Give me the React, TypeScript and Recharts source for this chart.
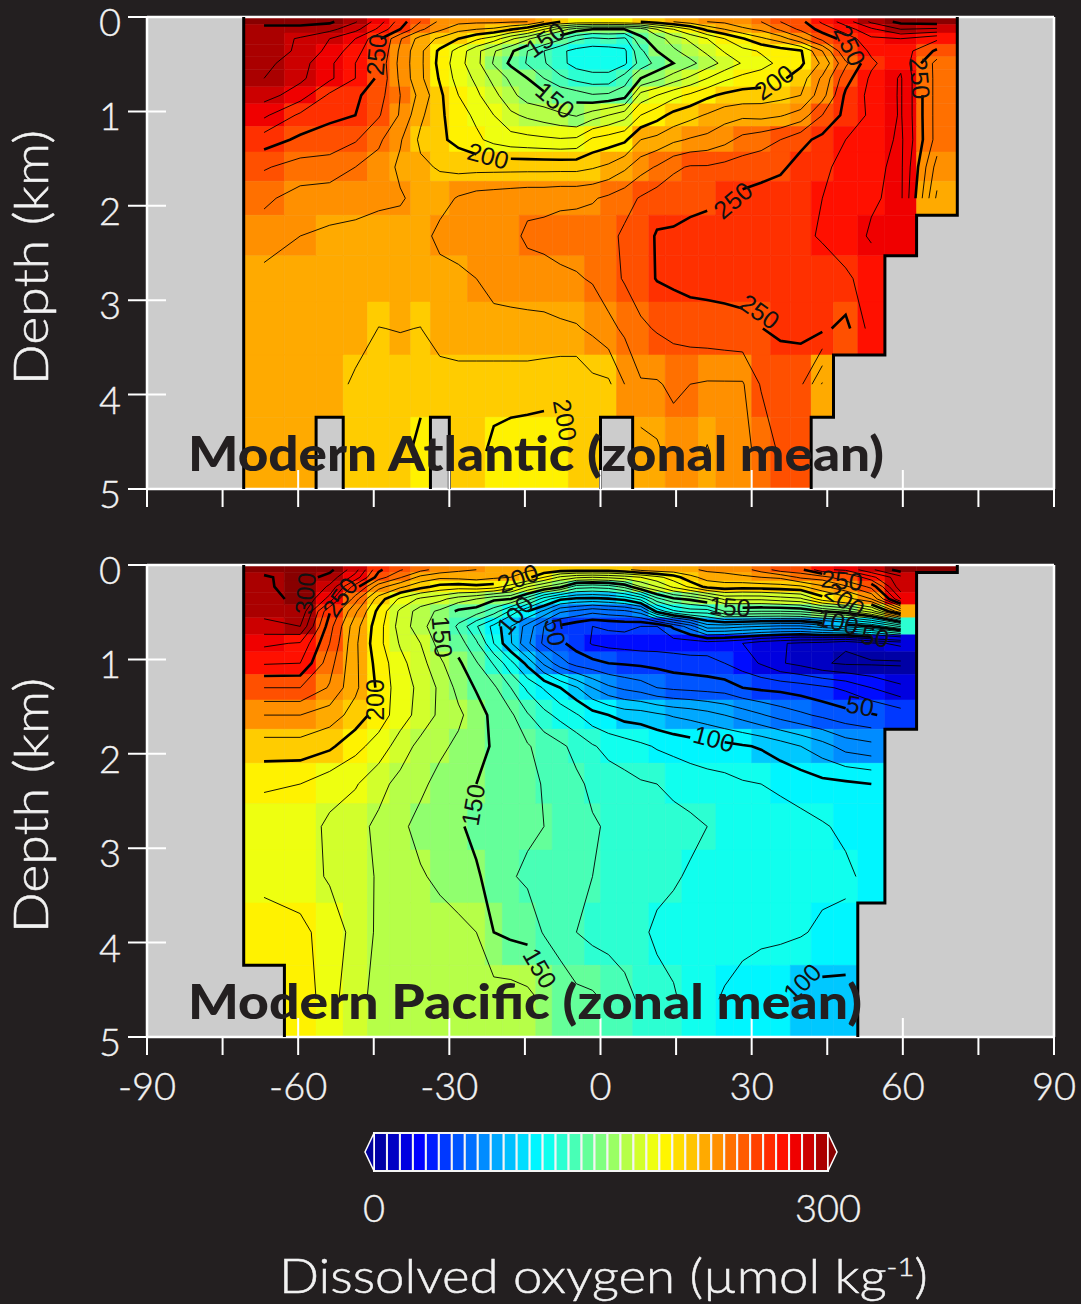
import React from "react";
import { ScatterChart, Scatter, XAxis, YAxis, ReferenceArea, ReferenceLine } from "recharts";

type Grid = (number | null)[][];
type Pt = { lat: number; depth: number };

// sine-latitude model grid, edges in degrees
const latEdges = [
  -70.81, -62.73, -56.44, -51.06, -46.24, -41.81, -37.67, -33.75, -30, -26.39, -22.89, -19.47,
  -16.13, -12.84, -9.59, -6.38, -3.18, 0, 3.18, 6.38, 9.59, 12.84, 16.13, 19.47, 22.89, 26.39, 30,
  33.75, 37.67, 41.81, 46.24, 51.06, 56.44, 62.73, 70.81,
];
// depth levels in km
const depthEdges = [0, 0.08, 0.17, 0.29, 0.42, 0.56, 0.74, 0.92, 1.16, 1.43, 1.74, 2.1, 2.53, 3.02, 3.58, 4.24, 5];
const depthMids = [0.05, 0.13, 0.23, 0.36, 0.49, 0.65, 0.83, 1.04, 1.3, 1.59, 1.92, 2.32, 2.77, 3.3, 3.89, 4.6];

const latTicks = [-90, -75, -60, -45, -30, -15, 0, 15, 30, 45, 60, 75, 90];
const depthTicks = [0, 1, 2, 3, 4, 5];
const contourLevels = [10, 20, 30, 40, 50, 60, 70, 80, 90, 100, 110, 120, 130, 140, 150, 160, 170, 180, 190, 200, 210, 220, 230, 240, 250, 260, 270, 280, 290, 300];

// swatches of the colour bar
const palette = [
  "#0000a5", "#0000c4", "#0000e0", "#0000ff", "#001cff", "#0038ff", "#0055ff", "#0070ff", "#008cff",
  "#00a8ff", "#00c0ff", "#00ddff", "#00f6ff", "#10ffee", "#2cffd2", "#48ffb6", "#64ff9a", "#80ff80",
  "#9aff64", "#b6ff48", "#d2ff2c", "#eeff10", "#fff600", "#ffdd00", "#ffc400", "#ffaa00", "#ff9000",
  "#ff7000", "#ff5c00", "#ff4000", "#ff2a00", "#ff1000", "#f00000", "#cc0000", "#aa0000",
];
const underColor = "#00009b";
const overColor = "#880000";
// cells are shaded in 10 umol/kg classes
const cellColors = [
  "#0000a5", "#0000c4", "#0000e0", "#000cff", "#0038ff", "#0055ff", "#0070ff", "#008cff", "#00a8ff", "#00c8ff",
  "#00f6ff", "#10ffee", "#2cffd2", "#48ffb6", "#64ff9a", "#90ff6e", "#b6ff48", "#d2ff2c", "#eeff10", "#fff200",
  "#ffcc00", "#ffaa00", "#ff9000", "#ff7000", "#ff5000", "#ff3000", "#ff1000", "#f00000", "#cc0000", "#aa0000",
];

const atlanticO2: Grid = [
  [304, 304, 302, 291, 275, 255, 240, 228, 223, 222, 222, 221, 220, 210, 200, 197, 197, 197, 198, 200, 205, 210, 215, 220, 222, 226, 230, 240, 247, 262, 275, 292, 303, 305],
  [296, 296, 293, 283, 268, 250, 232, 222, 213, 210, 208, 201, 194, 180, 165, 155, 150, 150, 150, 155, 170, 180, 190, 203, 210, 218, 222, 232, 242, 254, 265, 278, 290, 288],
  [295, 289, 280, 270, 252, 231, 216, 208, 200, 192, 185, 172, 162, 150, 142, 132, 128, 130, 128, 148, 155, 165, 172, 180, 190, 199, 208, 215, 228, 243, 254, 268, 270, 262],
  [296, 288, 277, 264, 250, 228, 212, 198, 186, 173, 161, 152, 140, 130, 122, 117, 115, 115, 118, 138, 150, 158, 165, 172, 181, 187, 191, 195, 199, 220, 249, 262, 266, 248],
  [293, 284, 272, 260, 247, 227, 212, 197, 184, 173, 159, 148, 139, 131, 123, 116, 114, 114, 118, 134, 143, 150, 157, 165, 173, 181, 187, 192, 198, 212, 238, 258, 268, 236],
  [290, 282, 272, 260, 248, 228, 212, 199, 186, 178, 167, 158, 150, 140, 132, 127, 124, 124, 135, 150, 157, 165, 172, 180, 188, 193, 194, 198, 205, 222, 246, 262, 271, 236],
  [284, 275, 258, 252, 244, 230, 217, 202, 190, 182, 173, 163, 155, 153, 148, 145, 141, 142, 146, 174, 180, 187, 192, 198, 202, 204, 205, 207, 210, 226, 252, 263, 271, 236],
  [272, 258, 252, 250, 241, 229, 212, 202, 194, 188, 180, 172, 168, 165, 162, 159, 165, 170, 176, 190, 196, 203, 207, 211, 216, 218, 217, 219, 224, 240, 253, 262, 271, 236],
  [255, 248, 246, 241, 232, 221, 208, 202, 197, 192, 187, 184, 183, 182, 181, 182, 192, 195, 198, 210, 213, 218, 221, 223, 227, 233, 236, 240, 247, 253, 260, 264, 272, 236],
  [241, 236, 235, 230, 226, 218, 212, 209, 207, 207, 207, 207, 207, 207, 207, 207, 209, 212, 218, 226, 231, 238, 241, 241, 243, 245, 246, 248, 254, 258, 263, 268, 272, 226],
  [232, 226, 225, 224, 222, 221, 217, 216, 221, 224, 225, 226, 227, 227, 228, 228, 229, 232, 236, 241, 245, 247, 247, 248, 250, 252, 254, 256, 258, 260, 264, 269, 272, 218],
  [225, 220, 218, 217, 216, 216, 216, 223, 224, 225, 226, 227, 232, 233, 234, 235, 236, 237, 242, 245, 251, 251, 253, 254, 255, 255, 256, 257, 258, 261, 266, 271, 276, null],
  [217, 217, 216, 216, 216, 216, 216, 216, 218, 220, 223, 224, 225, 226, 228, 229, 231, 236, 241, 246, 250.5, 252, 253, 253, 253, 253, 254, 255, 255, 255, 258, 265, null, null],
  [216, 216, 216, 215, 209.8, 210.4, 209.8, 215, 217, 217, 217, 217, 217, 217, 218, 219, 222, 227, 232, 238, 241, 243, 245, 246, 247, 248, 249.8, 252, 253, 252, 247, 264, null, null],
  [216, 216, 215, 208, 205, 205, 205, 205, 205, 205, 205, 205, 205, 204, 202, 201, 207, 208, 220, 229, 229, 232, 230, 229, 229, 229, 241, 243, 242, 219, null, null, null, null],
  [216, 210, null, 208, 208, 206, 195, null, 207, 204, 197, 195, 194, 194, 195, 201, 206, null, null, 215, 218, 225, 226, 219, 226, 228, 232, 242, 243, null, null, null, null, null],
];

const pacificO2: Grid = [
  [305, 306, 303, 284, 252, 241, 233, 226, 222, 220, 218, 216, 212, 208, 205, 205, 205, 205, 208, 213, 216, 217, 218, 222, 224, 226, 234, 245, 247, 268, 272, 288, 305, 305],
  [298, 306, 296, 276, 245, 231, 217, 212, 213, 215, 212, 210, 203, 190, 178, 172, 170, 172, 175, 180, 187, 195, 207, 214, 215, 218, 220, 222, 232, 235, 248, 267, 287, null],
  [298, 305, 288, 255, 224, 212, 203, 197, 195, 197, 195, 185, 170, 160, 152, 135, 133, 135, 143, 160, 170, 182, 192, 203, 206, 204, 205, 206, 208, 218, 228, 243, 287, null],
  [296, 303, 276, 234, 205, 188, 178, 173, 165, 160, 152, 150, 135, 115, 102, 98, 97, 99, 103, 113, 137, 148, 152, 160, 172, 172, 172, 175, 178, 195, 205, 220, 270, null],
  [293, 299, 251, 222, 197, 178, 165, 158, 148, 145, 135, 118, 100, 88, 72, 68, 63, 66, 68, 75, 103, 118, 125, 125, 140, 141, 140, 140, 142, 150, 157, 175, 218, null],
  [287, 290, 244, 214, 194, 176, 164, 152, 138, 121, 107, 90, 76, 60, 48, 43, 40, 41, 42, 40, 40, 52, 65, 85, 85, 82, 80, 78, 78, 85, 92, 100, 122, null],
  [272, 269, 240, 212, 193, 179, 170, 156, 145, 132, 110, 91, 72, 58, 52, 46, 39, 37, 36, 35, 35, 35, 34, 35, 33, 30, 24, 21, 18, 16, 11, 18, 22, null],
  [261, 260, 234, 212, 196, 183, 174, 162, 152, 141, 129, 113, 97, 78, 64, 56, 53, 50, 49, 48, 47, 45, 44, 43, 40, 35, 29, 21, 17, 11, 8.5, 8.5, 8.5, null],
  [240, 240, 229, 212, 198, 184, 178, 168, 157, 149, 142, 130, 118, 109, 100, 91, 80, 72, 68, 65, 60, 58, 57, 56, 55, 50, 48, 47, 45, 42, 38, 30, 22, null],
  [220, 220, 215, 206, 195, 185, 176, 168, 162, 155, 147, 142, 131, 123, 117, 111, 104, 100, 96, 95, 92, 89, 87, 84, 80, 76, 71, 66, 62, 58, 54, 51, 46, null],
  [206, 206, 202, 193, 186, 175, 167, 162, 158, 153, 149, 143, 141, 136, 132, 127, 121, 117, 115, 112, 109, 107, 105, 104, 103, 101, 99, 95, 90, 84, 76, 73, null, null],
  [191, 190, 184, 181, 173, 167, 162, 157, 154, 150, 148, 146, 144, 139, 135, 132, 128, 125, 123, 121, 120, 118, 116, 114, 113, 111, 110, 108, 106, 103, 102, 100, null, null],
  [186, 185, 178, 173, 168, 162, 157, 154, 151, 148, 146, 144, 142, 140, 137, 134, 131, 129, 127, 126, 124, 123, 122, 120, 119, 118, 116, 115, 113, 111, 108, 106, null, null],
  [187, 184, 179, 174, 169, 165, 161, 158, 154, 151, 147, 141, 138, 137, 135, 133, 130, 128, 126, 125, 123, 121, 119, 117, 116, 115, 114, 114, 114, 113, 112, 107, null, null],
  [195, 193, 185, 177, 168, 166, 165, 164, 163, 160, 150, 148, 147, 139, 135, 130, 127, 126, 124, 122, 118, 117, 116, 115, 114, 113, 112, 112, 111, 108, 107, null, null, null],
  [null, 197, 184, 173, 167, 166, 165, 165, 165, 165, 165, 165, 163, 158, 147, 143, 142, 138, 134, 128, 124, 121, 117, 112, 109, 106, 104, 101, 97, 96, 96, null, null, null],
];

// contour labels: [text, lat, depth, rotation]
const atlanticLabels: [string, number, number, number][] = [
  ["250", -44.5, 0.4, -85], ["150", -11, 0.24, -35], ["150", -9, 0.88, 40], ["200", -22.3, 1.47, 15],
  ["200", 34.4, 0.69, -35], ["250", 49.5, 0.3, 65], ["250", 63.4, 0.65, 85], ["250", 26.3, 1.94, -40],
  ["250", 31.6, 3.12, 35], ["200", -7, 4.27, 80],
];
const pacificLabels: [string, number, number, number][] = [
  ["300", -58.6, 0.3, -85], ["250", -51.7, 0.34, -55], ["200", -16.4, 0.14, -20], ["100", -17, 0.53, -50],
  ["150", -31.4, 0.76, 85], ["50", -9, 0.71, 80], ["150", 25.7, 0.44, 5], ["250", 47.9, 0.16, 5],
  ["200", 48.5, 0.37, 35], ["100", 47.1, 0.6, 15], ["50", 54.5, 0.76, 10], ["50", 51.5, 1.49, 10],
  ["200", -44.7, 1.43, -90], ["100", 22.5, 1.84, 15], ["150", -25.3, 2.54, -80], ["150", -12, 4.27, 60],
  ["100", 40, 4.42, -45],
];

const colorOf = (v: number) => (v >= 300 ? overColor : cellColors[Math.max(0, Math.floor(v / 10))]);
const latMids = latEdges.slice(0, -1).map((e, i) => (e + latEdges[i + 1]) / 2);

// join loose segments into polylines
function chain(segs: [Pt, Pt][]): Pt[][] {
  const key = (p: Pt) => `${p.lat.toFixed(3)},${p.depth.toFixed(3)}`;
  const left = segs.slice();
  const out: Pt[][] = [];
  while (left.length) {
    const line = left.pop()!.slice();
    let grown = true;
    while (grown) {
      grown = false;
      for (let i = 0; i < left.length; i++) {
        const [a, b] = left[i];
        const head = key(line[0]);
        const tail = key(line[line.length - 1]);
        if (key(a) === tail) line.push(b);
        else if (key(b) === tail) line.push(a);
        else if (key(a) === head) line.unshift(b);
        else if (key(b) === head) line.unshift(a);
        else continue;
        left.splice(i, 1);
        grown = true;
        break;
      }
    }
    out.push(line);
  }
  return out;
}

// marching squares over the cell centres
function contourLines(grid: Grid, level: number, labels: [string, number, number, number][]): Pt[][] {
  const segs: [Pt, Pt][] = [];
  const cross = (v1: number, v2: number, p1: Pt, p2: Pt): Pt => {
    const t = (level - v1) / (v2 - v1);
    return { lat: p1.lat + t * (p2.lat - p1.lat), depth: p1.depth + t * (p2.depth - p1.depth) };
  };
  for (let r = 0; r < grid.length - 1; r++) {
    for (let c = 0; c < latMids.length - 1; c++) {
      const a = grid[r][c], b = grid[r][c + 1], e = grid[r + 1][c + 1], d = grid[r + 1][c];
      if (a === null || b === null || e === null || d === null) continue;
      const pa = { lat: latMids[c], depth: depthMids[r] };
      const pb = { lat: latMids[c + 1], depth: depthMids[r] };
      const pe = { lat: latMids[c + 1], depth: depthMids[r + 1] };
      const pd = { lat: latMids[c], depth: depthMids[r + 1] };
      const pts: Pt[] = [];
      if (a < level !== b < level) pts.push(cross(a, b, pa, pb));
      if (b < level !== e < level) pts.push(cross(b, e, pb, pe));
      if (e < level !== d < level) pts.push(cross(e, d, pe, pd));
      if (d < level !== a < level) pts.push(cross(d, a, pd, pa));
      if (pts.length === 2) segs.push([pts[0], pts[1]]);
      if (pts.length === 4) {
        segs.push([pts[0], pts[3]]);
        segs.push([pts[1], pts[2]]);
      }
    }
  }
  // leave a gap where the line's own label sits
  const kept = segs.filter(([p, q]) =>
    !labels.some(([text, lat, depth]) => {
      if (Number(text) !== level) return false;
      const dx = ((p.lat + q.lat) / 2 - lat) * 5.04;
      const dy = ((p.depth + q.depth) / 2 - depth) * 94.4;
      return Math.hypot(dx, dy) < (text.length > 2 ? 20 : 13);
    })
  );
  return chain(kept);
}

// outline between ocean and land cells
function coastLines(grid: Grid): Pt[][] {
  const segs: [Pt, Pt][] = [];
  const wet = (r: number, c: number) => r < 0 || r >= grid.length || (c >= 0 && c < latMids.length && grid[r][c] !== null);
  grid.forEach((row, r) =>
    row.forEach((v, c) => {
      if (v === null) return;
      const [x1, x2, y1, y2] = [latEdges[c], latEdges[c + 1], depthEdges[r], depthEdges[r + 1]];
      if (!wet(r, c - 1)) segs.push([{ lat: x1, depth: y1 }, { lat: x1, depth: y2 }]);
      if (!wet(r, c + 1)) segs.push([{ lat: x2, depth: y1 }, { lat: x2, depth: y2 }]);
      if (!wet(r - 1, c)) segs.push([{ lat: x1, depth: y1 }, { lat: x2, depth: y1 }]);
      if (!wet(r + 1, c)) segs.push([{ lat: x1, depth: y2 }, { lat: x2, depth: y2 }]);
    })
  );
  return chain(segs);
}

const FONT = "Lato, 'Open Sans', sans-serif";
const INK = "#f2f2f2";
const noDot = () => <g />;

const LatTick = ({ x, y, payload, showLabel }: any) => {
  const v = payload.value;
  const inner = v % 30 === 0 && Math.abs(v) !== 90;
  return (
    <g>
      <line x1={x} x2={x} y1={inner ? y - 19 : y} y2={y + 18} stroke="#fff" strokeWidth={2} />
      {showLabel && v % 30 === 0 ? (
        <text x={x} y={y + 63} textAnchor="middle" fill={INK} stroke={INK} strokeWidth={0.4} fontFamily={FONT} fontWeight={300} fontSize={38}>
          {v}
        </text>
      ) : null}
    </g>
  );
};

const DepthTick = ({ x, y, payload }: any) => (
  <g>
    <line x1={x - 19} x2={x + 19} y1={y} y2={y} stroke="#fff" strokeWidth={2} />
    <text x={x - 37} y={y + 19} textAnchor="middle" fill={INK} stroke={INK} strokeWidth={0.4} fontFamily={FONT} fontWeight={300} fontSize={38}>
      {payload.value}
    </text>
  </g>
);

const ContourLabel = ({ cx, cy, payload }: any) => (
  <text
    x={cx}
    y={cy}
    transform={`rotate(${payload.angle} ${cx} ${cy})`}
    textAnchor="middle"
    dominantBaseline="central"
    fontFamily="'Liberation Sans', Arial, sans-serif"
    fontSize={25}
    fill="#111"
  >
    {payload.text}
  </text>
);

// the chart starts 10px above its plot slot so the "0" label has room
const Panel = ({ grid, labels, showLabels, height }: { grid: Grid; labels: [string, number, number, number][]; showLabels: boolean; height: number }) => {
  const labelData = labels.map(([text, lat, depth, angle]) => ({ text, lat, depth, angle }));
  return (
    <ScatterChart width={1081} height={height + 10} margin={{ top: 27, right: 27, bottom: 0, left: 0 }}>
      <XAxis
        type="number"
        dataKey="lat"
        domain={[-90, 90]}
        ticks={latTicks}
        interval={0}
        height={height - 489}
        tickSize={0}
        tickMargin={0}
        tickLine={false}
        axisLine={{ stroke: "#fff", strokeWidth: 2.5 }}
        tick={<LatTick showLabel={showLabels} />}
      />
      <YAxis
        type="number"
        dataKey="depth"
        reversed
        domain={[0, 5]}
        ticks={depthTicks}
        interval={0}
        width={147}
        tickSize={0}
        tickMargin={0}
        tickLine={false}
        axisLine={{ stroke: "#fff", strokeWidth: 2.5 }}
        tick={<DepthTick />}
      />
      <ReferenceArea x1={-90} x2={90} y1={0} y2={5} fill="#cccccc" fillOpacity={1} stroke="none" />
      {grid.flatMap((row, r) =>
        row.map((v, c) =>
          v === null ? null : (
            <ReferenceArea
              key={`${r}-${c}`}
              x1={latEdges[c]}
              x2={latEdges[c + 1]}
              y1={depthEdges[r]}
              y2={depthEdges[r + 1]}
              fill={colorOf(v)}
              fillOpacity={1}
              stroke={colorOf(v)}
              strokeWidth={0.5}
            />
          )
        )
      )}
      {contourLevels.flatMap((level) =>
        contourLines(grid, level, labels).map((line, i) => (
          <Scatter
            key={`c${level}-${i}`}
            data={line}
            line={{ stroke: "#000", strokeWidth: level % 50 === 0 ? 2.6 : 0.9 }}
            shape={noDot}
            isAnimationActive={false}
          />
        ))
      )}
      {coastLines(grid).map((line, i) => (
        <Scatter key={`l${i}`} data={line} line={{ stroke: "#000", strokeWidth: 3 }} shape={noDot} isAnimationActive={false} />
      ))}
      <Scatter data={labelData} shape={<ContourLabel />} isAnimationActive={false} />
      <ReferenceLine x={90} stroke="#fff" strokeWidth={2.5} />
      <ReferenceLine y={0} stroke="#fff" strokeWidth={2.5} />
    </ScatterChart>
  );
};

const barLevels = palette.map((color, i) => ({ color, from: (i * 300) / 35, to: ((i + 1) * 300) / 35 }));
const barEnds = [
  { v: 0, y: 0.5, color: underColor, dir: -1 },
  { v: 300, y: 0.5, color: overColor, dir: 1 },
];

const BarEnd = ({ cx, cy, payload }: any) => (
  <polygon
    points={`${cx},${cy - 19} ${cx + payload.dir * 9},${cy} ${cx},${cy + 19}`}
    fill={payload.color}
    stroke="#fff"
    strokeWidth={1.5}
  />
);

const BarTick = ({ x, y, payload }: any) => (
  <text x={x} y={y + 51} textAnchor="middle" fill={INK} stroke={INK} strokeWidth={0.4} fontFamily={FONT} fontWeight={300} fontSize={38}>
    {payload.value}
  </text>
);

const ColorBar = () => (
  <ScatterChart width={1081} height={110} margin={{ top: 5, right: 253, bottom: 0, left: 374 }}>
    <XAxis
      type="number"
      dataKey="v"
      domain={[0, 300]}
      ticks={[0, 300]}
      height={67}
      tickSize={0}
      tickMargin={0}
      tickLine={false}
      axisLine={false}
      tick={<BarTick />}
    />
    <YAxis type="number" dataKey="y" domain={[0, 1]} hide />
    {barLevels.map((b) => (
      <ReferenceArea key={b.color} x1={b.from} x2={b.to} y1={0} y2={1} fill={b.color} fillOpacity={1} stroke="#f4f4f4" strokeWidth={2} />
    ))}
    <Scatter data={barEnds} shape={<BarEnd />} isAnimationActive={false} />
  </ScatterChart>
);

const textStyle = { fontFamily: FONT, fill: INK, stroke: INK, strokeWidth: 0.5, fontSize: 47, fontWeight: 300 };
const titleStyle = { fontFamily: FONT, fill: "#231f20", fontSize: 47, fontWeight: 900 };

export default function App() {
  return (
    <div style={{ position: "absolute", left: 0, top: 0, width: 1081, height: 1304, background: "#231f20", overflow: "hidden" }}>
      <div style={{ position: "absolute", left: 0, top: -10 }}>
        <Panel grid={atlanticO2} labels={atlanticLabels} showLabels={false} height={530} />
      </div>
      <div style={{ position: "absolute", left: 0, top: 538 }}>
        <Panel grid={pacificO2} labels={pacificLabels} showLabels height={570} />
      </div>
      <div style={{ position: "absolute", left: 0, top: 1128 }}>
        <ColorBar />
      </div>
      <svg width={1081} height={1304} style={{ position: "absolute", left: 0, top: 0, pointerEvents: "none" }}>
        <text x={188} y={471} textLength={696} lengthAdjust="spacingAndGlyphs" style={titleStyle}>
          Modern Atlantic (zonal mean)
        </text>
        <text x={188} y={1019} textLength={674} lengthAdjust="spacingAndGlyphs" style={titleStyle}>
          Modern Pacific (zonal mean)
        </text>
        <text transform="translate(48 385) rotate(-90)" textLength={255} lengthAdjust="spacingAndGlyphs" style={textStyle}>
          Depth (km)
        </text>
        <text transform="translate(48 933) rotate(-90)" textLength={255} lengthAdjust="spacingAndGlyphs" style={textStyle}>
          Depth (km)
        </text>
        <text x={279} y={1293} style={textStyle} textLength={649} lengthAdjust="spacingAndGlyphs">
          Dissolved oxygen (µmol kg
          <tspan dy={-17} fontSize={26}>-1</tspan>
          <tspan dy={17}>)</tspan>
        </text>
      </svg>
    </div>
  );
}
